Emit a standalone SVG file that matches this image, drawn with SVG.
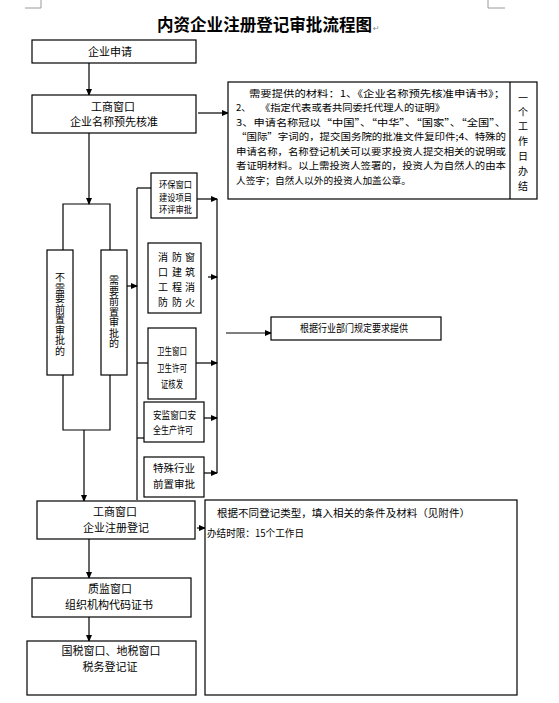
<svg xmlns="http://www.w3.org/2000/svg" width="559" height="703" viewBox="0 0 559 703">
<style>
.bx{fill:#fff;stroke:#000;stroke-width:1.2}
.ln{fill:none;stroke:#000;stroke-width:1.2}
.ar{fill:none;stroke:#000;stroke-width:1.2;marker-end:url(#ah)}
.t{font-family:"Noto Sans CJK SC","Liberation Sans",sans-serif;font-size:11px;fill:#000;text-anchor:middle}
.c{font-family:"Liberation Sans","Noto Sans CJK SC",sans-serif;font-size:10px;fill:#000;text-anchor:middle}
.e{font-family:"Liberation Sans","Noto Sans CJK SC",sans-serif;font-size:9px;fill:#000}
.s{font-family:"Noto Sans CJK SC","Liberation Sans",sans-serif;font-size:10px;fill:#000}
.m{font-family:"Noto Sans CJK SC","Liberation Sans",sans-serif;font-size:9.5px;fill:#000}
.mk{stroke:#9a9a9a;stroke-width:1;fill:none}
</style>
<defs>
<marker id="ah" markerUnits="userSpaceOnUse" markerWidth="7" markerHeight="6" refX="6" refY="3" orient="auto">
<path d="M0,0 L7,3 L0,6 z" fill="#000"/>
</marker>
</defs>
<rect width="559" height="703" fill="#fff"/>
<path class="mk" d="M41,0 V8 H25 M488,0 V8 H505"/>
<text x="157" y="31" font-family="'Noto Sans CJK SC',sans-serif" font-size="16.5" font-weight="bold" textLength="215" lengthAdjust="spacingAndGlyphs">内资企业注册登记审批流程图</text>
<text x="373" y="31" font-family="'DejaVu Sans',sans-serif" font-size="8" fill="#888">↵</text>

<g id="connectors">
<line class="ar" x1="89" y1="63" x2="89" y2="95"/>
<line class="ar" x1="198" y1="113" x2="228" y2="113"/>
<line class="ar" x1="89" y1="133" x2="89" y2="204"/>
<polyline class="ln" points="63,250 63,204 110,204 110,250"/>
<polyline class="ln" points="63,375 63,430 110,430 110,375"/>
<line class="ar" x1="84" y1="430" x2="84" y2="501"/>
<line class="ar" x1="127" y1="286" x2="137" y2="286"/>
<line class="ln" x1="137" y1="188" x2="137" y2="500"/>
<line class="ln" x1="137" y1="188" x2="151" y2="188"/>
<line class="ln" x1="137" y1="363" x2="148" y2="363"/>
<line class="ln" x1="137" y1="438" x2="150" y2="438"/>
<line class="ln" x1="217" y1="199" x2="217" y2="473"/>
<line class="ar" x1="197" y1="199" x2="217" y2="199"/>
<line class="ar" x1="208" y1="277" x2="217" y2="277"/>
<line class="ar" x1="196" y1="363" x2="217" y2="363"/>
<line class="ar" x1="198" y1="418" x2="217" y2="418"/>
<line class="ar" x1="200" y1="473" x2="217" y2="473"/>
<line class="ar" x1="226" y1="333" x2="271" y2="333"/>
<line class="ar" x1="89" y1="539" x2="89" y2="578"/>
<line class="ar" x1="89" y1="617" x2="89" y2="641"/>
<line class="ar" x1="197" y1="528" x2="205" y2="528"/>
</g>

<g id="n-apply">
<rect class="bx" x="32" y="40" width="164" height="23"/>
<text class="t" x="110" y="56">企业申请</text>
</g>
<g id="n-name">
<rect class="bx" x="32" y="95" width="164" height="38"/>
<text class="t" x="113" y="111">工商窗口</text>
<text class="t" x="114" y="126">企业名称预先核准</text>
</g>
<g id="n-materials">
<rect class="bx" x="228" y="82" width="309" height="117"/>
<line class="ln" x1="510" y1="82" x2="510" y2="199"/>
<text class="m" x="249" y="97" textLength="256" lengthAdjust="spacingAndGlyphs">需要提供的材料：1、《企业名称预先核准申请书》；</text>
<text class="m" x="236" y="111">2、</text>
<text class="m" x="260" y="111" textLength="185" lengthAdjust="spacingAndGlyphs">《指定代表或者共同委托代理人的证明》</text>
<text class="m" x="236" y="125.5" textLength="270" lengthAdjust="spacingAndGlyphs">3、申请名称冠以“中国”、“中华”、“国家”、“全国”、</text>
<text class="m" x="236" y="140" textLength="270" lengthAdjust="spacingAndGlyphs">“国际”字词的，提交国务院的批准文件复印件;4、特殊的</text>
<text class="m" x="236" y="154.5" textLength="270" lengthAdjust="spacingAndGlyphs">申请名称，名称登记机关可以要求投资人提交相关的说明或</text>
<text class="m" x="236" y="169" textLength="270" lengthAdjust="spacingAndGlyphs">者证明材料。以上需投资人签署的，投资人为自然人的由本</text>
<text class="m" x="236" y="183.5" textLength="175" lengthAdjust="spacingAndGlyphs">人签字；自然人以外的投资人加盖公章。</text>
<g class="c" font-size="11.5">
<text x="523" y="102">一</text>
<text x="523" y="116">个</text>
<text x="523" y="130">工</text>
<text x="523" y="145">作</text>
<text x="523" y="160">日</text>
<text x="523" y="175">办</text>
<text x="523" y="190">结</text>
</g>
</g>
<g id="n-noapproval">
<rect class="bx" x="47" y="250" width="26" height="125"/>
<g class="c">
<text x="60" y="281">不</text>
<text x="60" y="291.5">需</text>
<text x="60" y="302">要</text>
<text x="60" y="312.5">前</text>
<text x="60" y="323">置</text>
<text x="60" y="333.5">审</text>
<text x="60" y="344">批</text>
<text x="60" y="354.5">的</text>
</g>
</g>
<g id="n-approval">
<rect class="bx" x="101" y="250" width="26" height="125"/>
<g class="c">
<text x="114" y="284">需</text>
<text x="114" y="294.5">要</text>
<text x="114" y="305">前</text>
<text x="114" y="315.5">置</text>
<text x="114" y="326">审</text>
<text x="114" y="336.5">批</text>
<text x="114" y="347">的</text>
</g>
</g>
<g id="n-env">
<rect class="bx" x="151" y="173" width="46" height="45"/>
<text class="e" x="159" y="188" textLength="33" lengthAdjust="spacingAndGlyphs">环保窗口</text>
<text class="e" x="159" y="200.5" textLength="33" lengthAdjust="spacingAndGlyphs">建设项目</text>
<text class="e" x="159" y="213" textLength="33" lengthAdjust="spacingAndGlyphs">环评审批</text>
</g>
<g id="n-fire">
<rect class="bx" x="148" y="243" width="53" height="70"/>
<g class="c" font-size="11">
<text x="163" y="261">消</text><text x="177" y="261">防</text><text x="190" y="261">窗</text>
<text x="163" y="276">口</text><text x="177" y="276">建</text><text x="190" y="276">筑</text>
<text x="163" y="291">工</text><text x="177" y="291">程</text><text x="190" y="291">消</text>
<text x="163" y="306">防</text><text x="177" y="306">防</text><text x="190" y="306">火</text>
</g>
</g>
<g id="n-health">
<rect class="bx" x="148" y="328" width="48" height="71"/>
<text class="s" x="157" y="355" textLength="30" lengthAdjust="spacingAndGlyphs">卫生窗口</text>
<text class="s" x="157" y="372" textLength="30" lengthAdjust="spacingAndGlyphs">卫生许可</text>
<text class="s" x="161" y="388" textLength="22" lengthAdjust="spacingAndGlyphs">证核发</text>
</g>
<g id="n-safety">
<rect class="bx" x="144" y="402" width="60" height="40"/>
<text class="s" x="153" y="419" textLength="43" lengthAdjust="spacingAndGlyphs">安监窗口安</text>
<text class="s" x="153" y="434" textLength="40" lengthAdjust="spacingAndGlyphs">全生产许可</text>
</g>
<g id="n-special">
<rect class="bx" x="144" y="457" width="60" height="40"/>
<text class="s" x="153" y="472" textLength="42" lengthAdjust="spacingAndGlyphs">特殊行业</text>
<text class="s" x="153" y="488" textLength="42" lengthAdjust="spacingAndGlyphs">前置审批</text>
</g>
<g id="n-industry">
<rect class="bx" x="271" y="317" width="170" height="23"/>
<text class="s" x="300" y="332" textLength="108" lengthAdjust="spacingAndGlyphs">根据行业部门规定要求提供</text>
</g>
<g id="n-register">
<rect class="bx" x="37" y="501" width="158" height="38"/>
<text class="t" x="115" y="516">工商窗口</text>
<text class="t" x="116" y="532">企业注册登记</text>
</g>
<g id="n-regnote">
<rect class="bx" x="205" y="500" width="312" height="195"/>
<text class="s" x="217" y="517" textLength="253" lengthAdjust="spacingAndGlyphs">根据不同登记类型，填入相关的条件及材料（见附件）</text>
<text class="s" x="207" y="537" textLength="97" lengthAdjust="spacingAndGlyphs">办结时限：15个工作日</text>
</g>
<g id="n-quality">
<rect class="bx" x="32" y="578" width="159" height="39"/>
<text class="t" x="110" y="593">质监窗口</text>
<text class="t" x="109" y="609">组织机构代码证书</text>
</g>
<g id="n-tax">
<rect class="bx" x="27" y="641" width="169" height="54"/>
<text class="t" x="111" y="655">国税窗口、地税窗口</text>
<text class="t" x="110" y="671">税务登记证</text>
</g>
</svg>
